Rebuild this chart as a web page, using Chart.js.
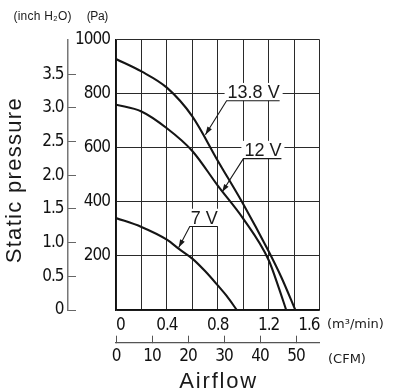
<!DOCTYPE html>
<html><head><meta charset="utf-8">
<script src="https://cdn.jsdelivr.net/npm/chart.js@4/dist/chart.umd.min.js"></script>
<style>html,body{margin:0;padding:0;background:#fff}#wrap{width:401px;height:391px}</style>
</head><body><div id="wrap"><canvas id="c" width="401" height="391"></canvas></div>
<script>
// ---- data ----
const flow138 = [0, 0.2, 0.4, 0.6, 0.8, 1.0, 1.2, 1.3, 1.41];
const pres138 = [928, 882, 822, 716, 552, 392, 217, 121, 0];
const flow12  = [0, 0.2, 0.4, 0.6, 0.8, 1.0, 1.2, 1.28, 1.338];
const pres12  = [759, 734, 672, 588, 460, 338, 185, 82, 0];
const flow7   = [0, 0.2, 0.4, 0.5, 0.6, 0.7, 0.8, 0.87, 0.95];
const pres7   = [340, 307, 260, 224, 190, 144, 91, 52, 0];
const seriesNames = ['13.8 V', '12 V', '7 V'];

const flowTicks = [0, 0.2, 0.4, 0.6, 0.8, 1.0, 1.2, 1.4, 1.6];
const flowTickLabels = ['0', '', '0.4', '', '0.8', '', '1.2', '', '1.6'];
const paTicks = [0, 200, 400, 600, 800, 1000];
const paTickLabels = ['', '200', '400', '600', '800', '1000'];
const inchTicks = [0, 0.5, 1.0, 1.5, 2.0, 2.5, 3.0, 3.5];
const inchTickLabels = ['0', '0.5', '1.0', '1.5', '2.0', '2.5', '3.0', '3.5'];
const cfmTicks = [0, 10, 20, 30, 40, 50];
const cfmTickLabels = ['0', '10', '20', '30', '40', '50'];

const PA_PER_INCH = 249.089;
const CFM_PER_M3MIN = 35.3147;

// label anchors (data units): text centre and arrow tip
const curveLabels = [
  { text: seriesNames[0], q: 1.082, p: 808, tipQ: 0.703, tipP: 648 },
  { text: seriesNames[1], q: 1.155, p: 594, tipQ: 0.834, tipP: 436 },
  { text: seriesNames[2], q: 0.694, p: 343, tipQ: 0.493, tipP: 231 }
];

const TICK_FONT = "'DejaVu Sans Condensed', 'Liberation Sans Narrow', sans-serif";
const TEXT_FONT = "'Liberation Sans', Arial, sans-serif";
const UNIT_FONT = "'DejaVu Sans', 'Liberation Sans', sans-serif";

function pts(xs, ys) { return xs.map((x, i) => ({ x: x, y: ys[i] })); }
function fixedTicks(arr) { return s => { s.ticks = arr.map(v => ({ value: v })); }; }

function spaced(ctx, text, x, y, font, width, align) {
  ctx.save();
  ctx.font = font;
  ctx.letterSpacing = '0px';
  const nat = ctx.measureText(text).width;
  const n = [...text].length;
  let sp = 0;
  if (width && n > 1) sp = (width - nat) / (n - 1);
  ctx.letterSpacing = sp + 'px';
  const w = nat + sp * (n - 1);
  let x0 = x;
  if (align === 'center') x0 = x - w / 2;
  else if (align === 'right') x0 = x - w;
  ctx.textAlign = 'left';
  ctx.textBaseline = 'alphabetic';
  ctx.fillText(text, x0, y);
  ctx.restore();
}

const extras = {
  id: 'extras',
  beforeDraw(chart) {
    chart.ctx.letterSpacing = '-1px';
  },
  afterDatasetsDraw(chart) {
    const ctx = chart.ctx;
    const xs = chart.scales.x, ys = chart.scales.y;
    ctx.save();
    ctx.letterSpacing = '0px';
    ctx.fillStyle = '#1a1a1a';
    curveLabels.forEach(l => {
      const cx = xs.getPixelForValue(l.q), cy = ys.getPixelForValue(l.p);
      const tx = xs.getPixelForValue(l.tipQ), ty = ys.getPixelForValue(l.tipP);
      ctx.font = '18px ' + TEXT_FONT;
      const w = ctx.measureText(l.text).width;
      const base = cy + 6.5;
      const left = cx - w / 2, right = cx + w / 2;
      const ul = base + 2.8;
      ctx.fillStyle = '#ffffff';
      ctx.fillRect(left - 3, base - 15, w + 6, ul - (base - 15));
      ctx.fillStyle = '#1a1a1a';
      ctx.textAlign = 'center'; ctx.textBaseline = 'alphabetic';
      ctx.fillText(l.text, cx, base);
      ctx.strokeStyle = '#1a1a1a'; ctx.lineWidth = 1.1;
      ctx.beginPath();
      ctx.moveTo(right, ul); ctx.lineTo(left - 1, ul); ctx.lineTo(tx, ty);
      ctx.stroke();
      const ang = Math.atan2(ty - ul, tx - (left - 1));
      const L = 8, H = 2.6;
      ctx.beginPath();
      ctx.moveTo(tx, ty);
      ctx.lineTo(tx - L * Math.cos(ang) + H * Math.sin(ang), ty - L * Math.sin(ang) - H * Math.cos(ang));
      ctx.lineTo(tx - L * Math.cos(ang) - H * Math.sin(ang), ty - L * Math.sin(ang) + H * Math.cos(ang));
      ctx.closePath(); ctx.fill();
    });
    ctx.restore();
  },
  afterDraw(chart) {
    const ctx = chart.ctx;
    const ca = chart.chartArea;
    ctx.save();
    ctx.letterSpacing = '0px';
    ctx.fillStyle = '#1a1a1a';
    spaced(ctx, '(inch H\u2082O)', 13.5, 19.5, '12px ' + TEXT_FONT, 58, 'left');
    spaced(ctx, '(Pa)', 86.7, 19.5, '12px ' + TEXT_FONT, 21.6, 'left');
    spaced(ctx, '(m\u00b3/min)', ca.right + 7.5, 328, '13px ' + UNIT_FONT, 0, 'left');
    spaced(ctx, '(CFM)', 328, 363, '13px ' + UNIT_FONT, 0, 'left');
    spaced(ctx, 'Airflow', (ca.left + ca.right) / 2, 388.3, '22px ' + TEXT_FONT, 77, 'center');
    ctx.save();
    ctx.translate(20.7, 180.8);
    ctx.rotate(-Math.PI / 2);
    spaced(ctx, 'Static pressure', 0, 0, '22px ' + TEXT_FONT, 165, 'center');
    ctx.restore();
    ctx.restore();
    ctx.letterSpacing = '0px';
  }
};

const tickFont = { family: TICK_FONT, size: 17 };
const lineStyle = { borderColor: '#151515', borderWidth: 2.1, pointRadius: 0, fill: false, cubicInterpolationMode: 'monotone', xAxisID: 'x', yAxisID: 'y' };

new Chart(document.getElementById('c'), {
  type: 'line',
  data: {
    datasets: [
      Object.assign({ label: seriesNames[0], data: pts(flow138, pres138) }, lineStyle),
      Object.assign({ label: seriesNames[1], data: pts(flow12, pres12) }, lineStyle),
      Object.assign({ label: seriesNames[2], data: pts(flow7, pres7) }, lineStyle)
    ]
  },
  plugins: [extras],
  options: {
    responsive: false,
    animation: false,
    devicePixelRatio: 1,
    layout: { padding: { left: 0, right: 81.5, top: 39.5, bottom: 0 } },
    plugins: { legend: { display: false }, tooltip: { enabled: false } },
    scales: {
      x: {
        type: 'linear', position: 'bottom', min: 0, max: 1.6, weight: 0,
        afterBuildTicks: fixedTicks(flowTicks),
        afterFit: s => { s.height = 32.7; },
        ticks: { autoSkip: false, maxRotation: 0, minRotation: 0, align: 'inner', padding: 5, color: '#111', font: tickFont,
                 callback: (v, i) => flowTickLabels[i] },
        grid: { color: '#2a2a2a', lineWidth: 1, drawTicks: false },
        border: { color: '#111', width: 1.5 }
      },
      cfm: {
        type: 'linear', position: 'bottom', min: 0, max: 1.6 * CFM_PER_M3MIN, weight: 1,
        afterBuildTicks: fixedTicks(cfmTicks),
        afterFit: s => { s.height = 48.3; },
        ticks: { autoSkip: false, maxRotation: 0, minRotation: 0, padding: 11, color: '#111', font: tickFont,
                 callback: (v, i) => cfmTickLabels[i] },
        grid: { drawOnChartArea: false, drawTicks: true, tickLength: -7, color: '#555', lineWidth: 1 },
        border: { color: '#555', width: 1.2 }
      },
      y: {
        type: 'linear', position: 'left', min: 0, max: 1000, weight: 0,
        afterBuildTicks: fixedTicks(paTicks),
        afterFit: s => { s.width = 48; },
        ticks: { autoSkip: false, padding: 6, color: '#111', font: tickFont,
                 callback: (v, i) => paTickLabels[i] },
        grid: { color: '#2a2a2a', lineWidth: 1, drawTicks: false },
        border: { color: '#111', width: 1.5 }
      },
      inch: {
        type: 'linear', position: 'left', min: 0, max: 1000 / PA_PER_INCH, weight: 1,
        afterBuildTicks: fixedTicks(inchTicks),
        afterFit: s => { s.width = 68; },
        ticks: { autoSkip: false, padding: 12.5, color: '#111', font: tickFont,
                 callback: (v, i) => inchTickLabels[i] },
        grid: { drawOnChartArea: false, drawTicks: true, tickLength: -8, color: '#666', lineWidth: 1 },
        border: { color: '#777', width: 1.5 }
      }
    }
  }
});
</script>
</body></html>
